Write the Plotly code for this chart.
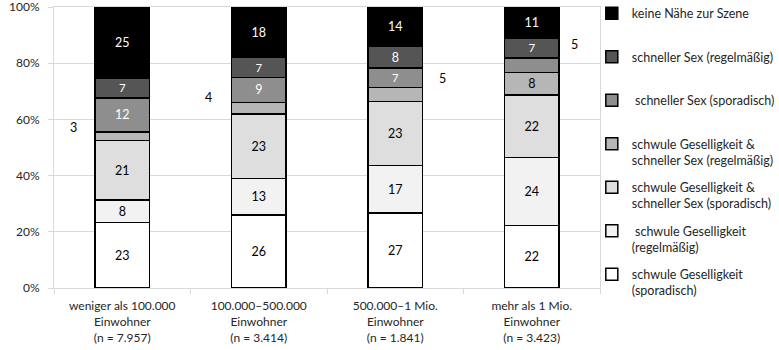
import plotly.graph_objects as go

# ---- data ----
categories = [
    "weniger als 100.000<br>Einwohner<br>(n = 7.957)",
    "100.000–500.000<br>Einwohner<br>(n = 3.414)",
    "500.000–1 Mio.<br>Einwohner<br>(n = 1.841)",
    "mehr als 1 Mio.<br>Einwohner<br>(n = 3.423)",
]
series_names = [
    "schwule Geselligkeit<br>(sporadisch)",
    " schwule Geselligkeit<br>(regelmäßig)",
    "schwule Geselligkeit &<br>schneller Sex (sporadisch)",
    "schwule Geselligkeit &<br>schneller Sex (regelmäßig)",
    " schneller Sex (sporadisch)",
    "schneller Sex (regelmäßig)",
    "keine Nähe zur Szene",
]
gesellig_sporadisch = [23, 26, 27, 22]
gesellig_regelmaessig = [8, 13, 17, 24]
gesellig_sex_sporadisch = [21, 23, 23, 22]
gesellig_sex_regelmaessig = [3, 4, 5, 8]
sex_sporadisch = [12, 9, 7, 5]
sex_regelmaessig = [7, 7, 8, 7]
keine_naehe = [25, 18, 14, 11]
series_values = [gesellig_sporadisch, gesellig_regelmaessig, gesellig_sex_sporadisch,
                 gesellig_sex_regelmaessig, sex_sporadisch, sex_regelmaessig, keine_naehe]
y_ticks = [0, 20, 40, 60, 80, 100]
y_tick_labels = ["0%", "20%", "40%", "60%", "80%", "100%"]

# ---- style ----
fill_colors = ["#FFFFFF", "#F2F2F2", "#DEDEDE", "#B6B6B6", "#8E8E8E", "#555555", "#000000"]
text_colors = ["#000000", "#000000", "#000000", "#000000", "#FFFFFF", "#FFFFFF", "#FFFFFF"]
# labels placed outside bars: (series index, category index, xshift, yshift)
outside_labels = [(3, 0, -49, 9), (3, 1, -50, 11), (3, 2, 47, 16), (4, 3, 43, 21)]
FONT = "Lato"

outside_set = {(s, c) for s, c, _, _ in outside_labels}
totals = [sum(vals[c] for vals in series_values) for c in range(len(categories))]

fig = go.Figure()
n = len(series_names)
for i, (name, vals) in enumerate(zip(series_names, series_values)):
    label = name if "<br>" in name else name + "<br> "
    texts = ["" if (i, c) in outside_set else str(v) for c, v in enumerate(vals)]
    fig.add_trace(go.Bar(
        x=categories, y=vals, name=label,
        marker=dict(color=fill_colors[i], line=dict(color="#000000", width=1.5)),
        text=texts, texttemplate="%{text}", textposition="inside",
        insidetextanchor="middle", textangle=0,
        textfont=dict(family=FONT, size=12.5, color=text_colors[i]),
        legendgroup=f"g{i}", legendrank=n - i, hoverinfo="skip",
    ))

for s, c, dx, dy in outside_labels:
    below = sum(series_values[k][c] for k in range(s))
    ymid = (below + series_values[s][c] / 2) / totals[c] * 100
    fig.add_annotation(x=categories[c], y=ymid, text=str(series_values[s][c]),
                       showarrow=False, xshift=dx, yshift=dy,
                       font=dict(family=FONT, size=12.5, color="#000000"))

fig.update_layout(
    width=779, height=350,
    margin=dict(l=54, r=179, t=7, b=62, autoexpand=False),
    barmode="stack", barnorm="percent", bargap=0.6,
    plot_bgcolor="white", paper_bgcolor="white",
    font=dict(family=FONT, size=12, color="#404040"),
    showlegend=True,
    legend=dict(x=0.985, xanchor="left", y=1.03, yanchor="top", maxheight=340,
                traceorder="grouped", tracegroupgap=8, valign="top",
                font=dict(family=FONT, size=12.5, color="#262626"),
                bgcolor="rgba(0,0,0,0)"),
)
fig.update_xaxes(
    type="category", range=[-0.5, 3.5],
    showline=True, mirror=True, linecolor="#D9D9D9", linewidth=1,
    ticks="outside", tickson="boundaries", ticklen=5, tickcolor="#D9D9D9",
    ticklabelstandoff=7,
    tickfont=dict(family=FONT, size=12, color="#262626"),
    showgrid=False,
)
fig.update_yaxes(
    range=[0, 100], tickmode="array",
    tickvals=y_ticks, ticktext=y_tick_labels, ticklabeloverflow="allow",
    showgrid=True, gridcolor="#D9D9D9", gridwidth=1, zeroline=False,
    showline=True, mirror=True, linecolor="#D9D9D9", ticks="outside", ticklen=5,
    tickcolor="#D9D9D9", ticklabelstandoff=6,
    tickfont=dict(family=FONT, size=12, color="#262626"),
)

fig.write_html("out.html", config={"displayModeBar": False},
               post_script="document.body.style.margin='0';")
